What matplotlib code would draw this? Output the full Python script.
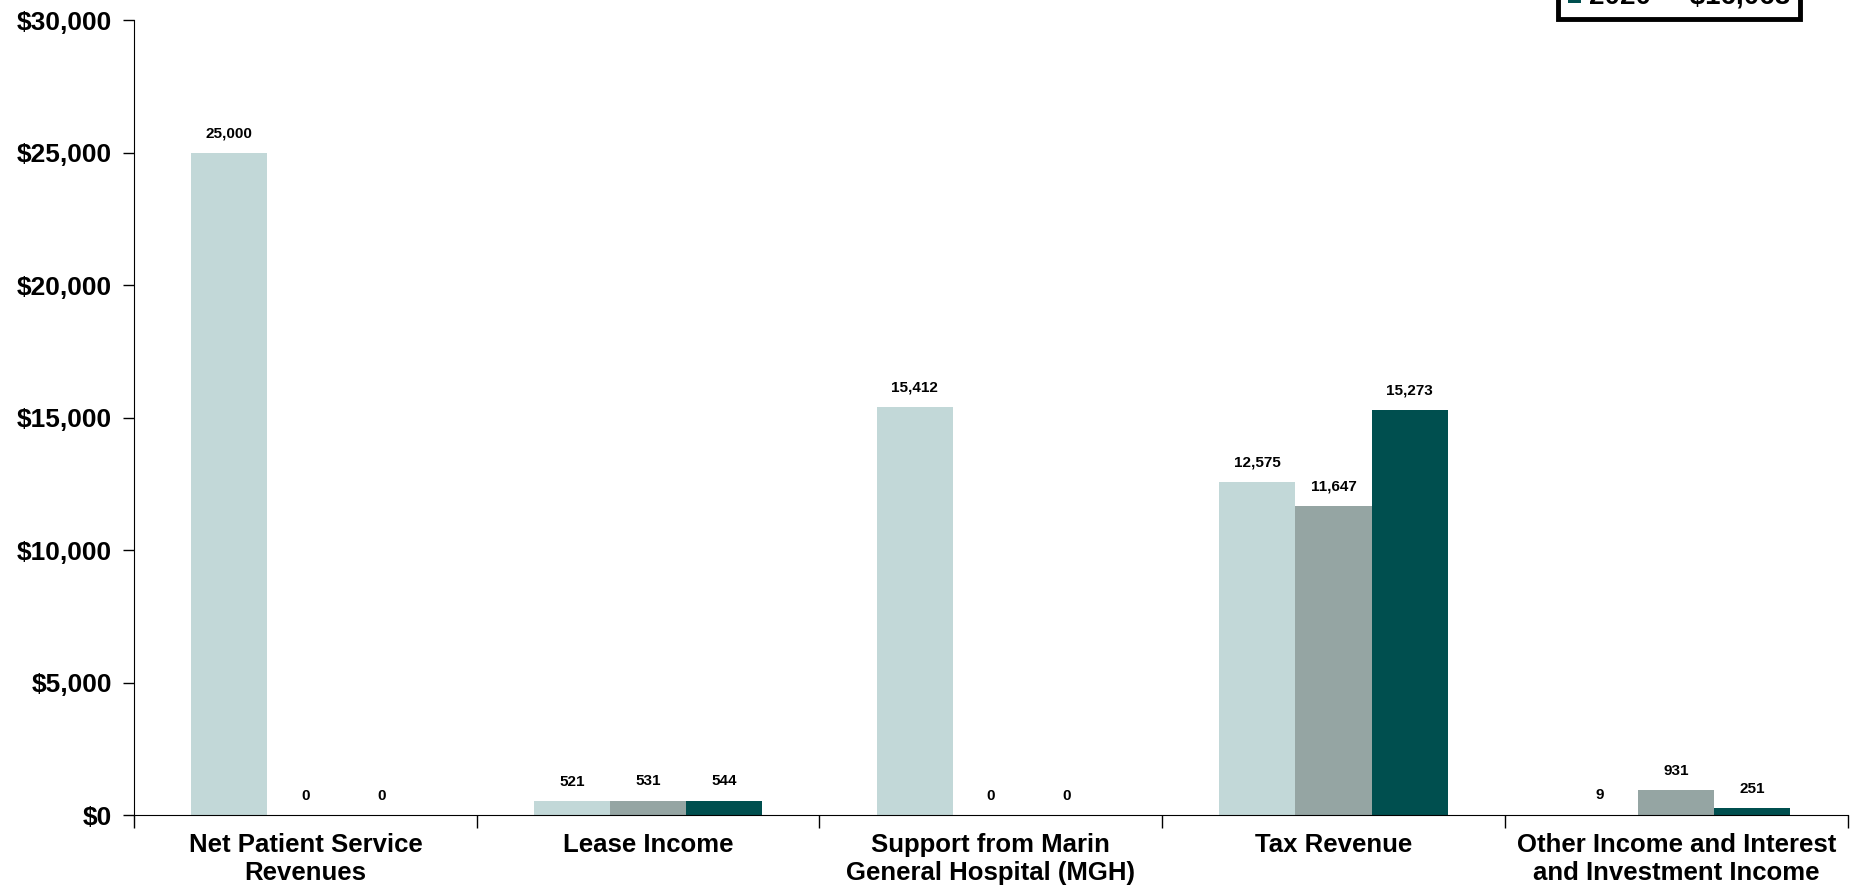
import matplotlib.pyplot as plt
import numpy as np

plt.rcParams['font.family'] = ['Liberation Sans', 'DejaVu Sans']
plt.rcParams['font.weight'] = 'bold'

categorias = ["Net Patient Service\nRevenues", "Lease Income",
              "Support from Marin\nGeneral Hospital (MGH)", "Tax Revenue",
              "Other Income and Interest\nand Investment Income"]
anios = ["2018", "2019", "2020"]
v2018 = [25000, 521, 15412, 12575, 9]
v2019 = [0, 531, 0, 11647, 931]
v2020 = [0, 544, 0, 15273, 251]
colores = ["#C2D8D8", "#95A5A3", "#004F4F"]

series = [v2018, v2019, v2020]

fig = plt.figure(figsize=(18.7, 8.93), dpi=100)
ax = fig.add_axes([0.0717, 0.0873, 0.9163, 0.8903])

x = np.arange(len(categorias))
ancho = 0.222
handles = []
for i, (vals, c) in enumerate(zip(series, colores)):
    pos = x + (i - 1) * ancho
    total = sum(vals)
    b = ax.bar(pos, vals, width=ancho, color=c,
               label=f"{anios[i]}     ${total:,}")
    handles.append(b)
    for p, v in zip(pos, vals):
        ax.annotate(f"{v:,}", (p, v), xytext=(0, 9), textcoords="offset points",
                    ha="center", va="bottom", fontsize=11, fontweight="bold")

ax.set_xlim(-0.5, 4.5)
ax.set_ylim(0, 30000)
ax.set_yticks(np.arange(0, 30001, 5000))
ax.set_yticklabels([f"${v:,}" for v in range(0, 30001, 5000)], fontsize=19, fontweight="bold")
ax.tick_params(axis="y", direction="out", length=8, width=1, pad=8)

ax.set_xticks(np.arange(-0.5, 4.6, 1))
ax.set_xticklabels([])
ax.tick_params(axis="x", which="major", direction="out", length=9, width=1)
ax.set_xticks(x, minor=True)
ax.set_xticklabels(categorias, minor=True, fontsize=18.5, fontweight="bold")
ax.tick_params(axis="x", which="minor", length=0, pad=13)

for s in ["top", "right"]:
    ax.spines[s].set_visible(False)

leg = fig.legend(handles=handles, loc="lower right", bbox_to_anchor=(1800 / 1870, 1 - 19 / 893),
                 fontsize=20, frameon=True, fancybox=False, framealpha=1,
                 handlelength=0.45, handleheight=0.7,
                 handletextpad=0.3, borderpad=0.35, labelspacing=0.2, borderaxespad=0)
leg.get_frame().set_edgecolor("black")
leg.get_frame().set_linewidth(3.5)
for t in leg.get_texts():
    t.set_fontweight("bold")

plt.savefig("out.png")
